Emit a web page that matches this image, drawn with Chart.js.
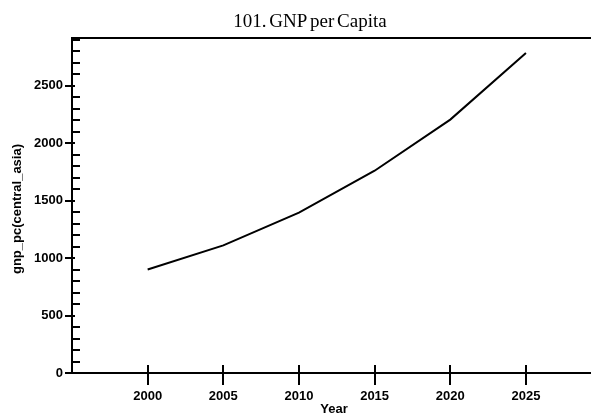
<!DOCTYPE html>
<html>
<head>
<meta charset="utf-8">
<script src="https://cdn.jsdelivr.net/npm/chart.js@4.4.0/dist/chart.umd.min.js"></script>
<style>
  html, body { margin: 0; padding: 0; background: #fff; }
  #wrap { width: 591px; height: 416px; position: relative; }
</style>
</head>
<body>
<div id="wrap"><canvas id="chart"></canvas></div>
<script>
// data
const years = [2000, 2005, 2010, 2015, 2020, 2025];
const gnpPc = [900, 1110, 1395, 1760, 2205, 2785];
const yTicks = [0, 500, 1000, 1500, 2000, 2500];
const chartTitle = "101. GNP per Capita";
const xTitle = "Year";
const yTitle = "gnp_pc(central_asia)";

const sansFamily = "'Liberation Sans', Arial, sans-serif";

//axis lines, crossing major ticks, small minor ticks and the titles
const axisPlugin = {
  id: "axisPlugin",
  afterDraw(chart) {
    const ctx = chart.ctx;
    const area = chart.chartArea;
    const xs = chart.scales.x;
    const ys = chart.scales.y;
    ctx.save();
    ctx.strokeStyle = "#000";
    ctx.lineWidth = 2;
    ctx.beginPath();
    // left, bottom and top border (no right one)
    ctx.moveTo(area.left, area.top);
    ctx.lineTo(area.right, area.top);
    ctx.moveTo(area.left, area.top - 1);
    ctx.lineTo(area.left, area.bottom);
    ctx.lineTo(area.right, area.bottom);
    // y minor ticks every 100
    for (let v = 100; v <= ys.max; v += 100) {
      if (v % 500 === 0) continue;
      const y = Math.round(ys.getPixelForValue(v));
      ctx.moveTo(area.left, y);
      ctx.lineTo(area.left + 8, y);
    }
    // y major ticks
    for (const v of yTicks) {
      const y = Math.round(ys.getPixelForValue(v));
      ctx.moveTo(area.left - 7, y);
      ctx.lineTo(area.left + 3, y);
    }
    // x major ticks crossing the axis
    for (const v of years) {
      const x = Math.round(xs.getPixelForValue(v));
      ctx.moveTo(x, area.bottom - 8);
      ctx.lineTo(x, area.bottom + 12);
    }
    ctx.stroke();

    ctx.fillStyle = "#000";
    ctx.textAlign = "center";
    // chart title, serif and a bit squeezed
    ctx.font = "19px 'Liberation Serif', 'Times New Roman', serif";
    ctx.textBaseline = "alphabetic";
    ctx.wordSpacing = "-2px";
    ctx.fillText(chartTitle, 310, 27);
    ctx.wordSpacing = "0px";
    // axis titles
    ctx.font = "bold 13px " + sansFamily;
    ctx.textBaseline = "middle";
    ctx.fillText(xTitle, 334, 409);
    ctx.translate(17, 209);
    ctx.rotate(-Math.PI / 2);
    ctx.fillText(yTitle, 0, 0);
    ctx.restore();
  },
};

new Chart(document.getElementById("chart"), {
  type: "line",
  data: {
    datasets: [
      {
        data: years.map((yr, i) => ({ x: yr, y: gnpPc[i] })),
        borderColor: "#000",
        borderWidth: 2,
        pointRadius: 0,
        tension: 0,
        fill: false,
      },
    ],
  },
  plugins: [axisPlugin],
  options: {
    responsive: true,
    maintainAspectRatio: false,
    animation: false,
    layout: { padding: { top: 38, left: 0, right: 0, bottom: 0 } },
    plugins: {
      legend: { display: false },
      tooltip: { enabled: false },
      title: { display: false },
    },
    scales: {
      x: {
        type: "linear",
        min: 1995,
        max: 2029.3,
        afterBuildTicks: (axis) => {
          axis.ticks = years.map((v) => ({ value: v }));
        },
        afterFit: (axis) => {
          axis.height = 43;
        },
        grid: { display: false, drawTicks: false },
        border: { display: false },
        ticks: {
          padding: 16,
          color: "#000",
          maxRotation: 0,
          autoSkip: false,
          font: { family: sansFamily, size: 13, weight: "bold" },
          callback: (v) => String(v),
        },
      },
      y: {
        type: "linear",
        min: 0,
        max: 2915,
        afterBuildTicks: (axis) => {
          axis.ticks = yTicks.map((v) => ({ value: v }));
        },
        afterFit: (axis) => {
          axis.width = 72;
        },
        grid: { display: false, drawTicks: false },
        border: { display: false },
        ticks: {
          padding: 9,
          color: "#000",
          font: { family: sansFamily, size: 13, weight: "bold" },
          callback: (v) => String(v),
        },
      },
    },
  },
});
</script>
</body>
</html>
